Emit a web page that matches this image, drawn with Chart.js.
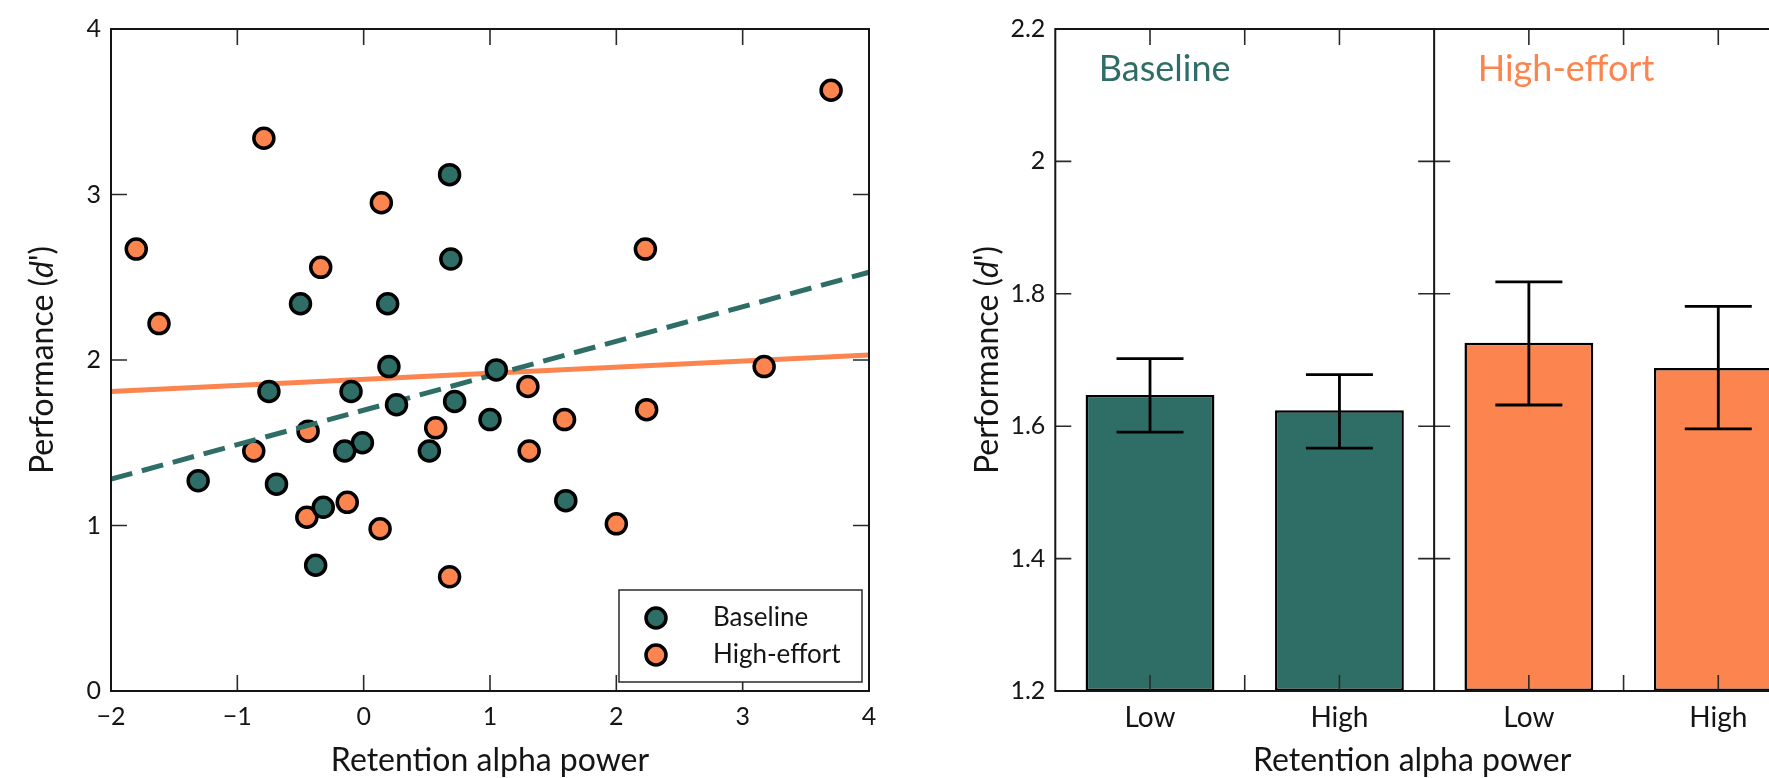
<!DOCTYPE html>
<html>
<head>
<meta charset="utf-8">
<script src="https://cdn.jsdelivr.net/npm/chart.js@4.4.1/dist/chart.umd.min.js"></script>
<style>
  html, body { margin: 0; padding: 0; background: #fff; overflow: hidden; }
  #scatterChart { position: absolute; left: 0; top: 0; }
  #barChart { position: absolute; left: 900px; top: 0; }
</style>
</head>
<body>
<canvas id="scatterChart" width="900" height="778"></canvas>
<canvas id="barChart" width="930" height="778"></canvas>
<script>
// left panel: per-subject retention alpha power vs d'
const baselineX = [0.68, 0.69, -0.50, 0.19, 0.20, 1.05, -0.75, -0.10, 0.26, 0.72, 1.00, -0.01, -0.15, 0.52, -1.31, -0.69, -0.32, 1.60, -0.38];
const baselineY = [3.12, 2.61, 2.34, 2.34, 1.96, 1.94, 1.81, 1.81, 1.73, 1.75, 1.64, 1.50, 1.45, 1.45, 1.27, 1.25, 1.11, 1.15, 0.76];
const effortX = [-1.80, -1.62, -0.79, 0.14, -0.34, 3.70, 2.23, 1.30, 3.17, -0.44, 0.57, -0.87, -0.45, -0.13, 0.13, 0.68, 2.24, 1.59, 1.31, 2.00];
const effortY = [2.67, 2.22, 3.34, 2.95, 2.56, 3.63, 2.67, 1.84, 1.96, 1.57, 1.59, 1.45, 1.05, 1.14, 0.98, 0.69, 1.70, 1.64, 1.45, 1.01];
const fitX = [-2, 4];
const baselineFit = [1.28, 2.53];
const effortFit = [1.81, 2.03];
const scatterXTicks = [-2, -1, 0, 1, 2, 3, 4];
const scatterYTicks = [0, 1, 2, 3, 4];

// right panel: median split on alpha power
const barLabels = ['Low', 'High', 'Low', 'High'];
const barConditions = ['Baseline', 'Baseline', 'High-effort', 'High-effort'];
const barMeans = [1.647, 1.624, 1.726, 1.688];
const barErrLow = [1.591, 1.567, 1.632, 1.596];
const barErrHigh = [1.702, 1.678, 1.818, 1.781];
const panelNames = ['Baseline', 'High-effort'];
const barYTicks = [1.2, 1.4, 1.6, 1.8, 2, 2.2];

const TEAL = '#2e6e67';
const ORANGE = '#fc854f';
const INK = '#151515';

Chart.defaults.font.family = 'Lato, sans-serif';
Chart.defaults.font.size = 25;
Chart.defaults.color = INK;

const pts = (xs, ys) => xs.map((x, i) => ({ x: x, y: ys[i] }));

// box, inward ticks, dividers
const framePlugin = {
    id: 'frame',
    afterDatasetsDraw(chart, args, opts) {
        const { ctx, chartArea: a, scales: { x, y } } = chart;
        const tl = 16;
        ctx.save();
        ctx.strokeStyle = '#2a2a2a';
        ctx.lineWidth = 1.6;
        ctx.beginPath();
        opts.xTicks.forEach(v => {
            const px = x.getPixelForValue(v);
            ctx.moveTo(px, a.bottom); ctx.lineTo(px, a.bottom - tl);
            ctx.moveTo(px, a.top); ctx.lineTo(px, a.top + tl);
        });
        opts.yTicks.forEach(v => {
            const py = y.getPixelForValue(v);
            ctx.moveTo(a.left, py); ctx.lineTo(a.left + tl, py);
            ctx.moveTo(a.right, py); ctx.lineTo(a.right - tl, py);
            (opts.dividers || []).forEach(d => {
                const px = x.getPixelForValue(d);
                ctx.moveTo(px - tl, py); ctx.lineTo(px + tl, py);
            });
        });
        ctx.stroke();
        ctx.strokeStyle = INK;
        ctx.lineWidth = 2;
        ctx.strokeRect(a.left, a.top, a.right - a.left, a.bottom - a.top);
        ctx.beginPath();
        (opts.dividers || []).forEach(d => {
            const px = x.getPixelForValue(d);
            ctx.moveTo(px, a.top); ctx.lineTo(px, a.bottom);
        });
        ctx.stroke();
        ctx.restore();
    }
};

// axis titles, y title has italic d
const titlesPlugin = {
    id: 'titles',
    afterDraw(chart, args, opts) {
        const { ctx, chartArea: a } = chart;
        ctx.save();
        ctx.fillStyle = INK;
        ctx.textBaseline = 'middle';
        // x title
        ctx.font = '32px Lato';
        ctx.textAlign = 'center';
        let cx = (a.left + a.right) / 2;
        if (opts.visibleCenter) {
            const visRight = Math.min(a.right, window.innerWidth - chart.canvas.offsetLeft);
            cx = (a.left + visRight) / 2;
        }
        ctx.fillText('Retention alpha power', cx, a.bottom + 70);
        // y title
        ctx.translate(a.left - 68, (a.top + a.bottom) / 2);
        ctx.rotate(-Math.PI / 2);
        ctx.textAlign = 'left';
        const parts = [['Performance (', '32px Lato'], ['d', 'italic 32px Lato'], ["')", '32px Lato']];
        let total = 0;
        parts.forEach(p => { ctx.font = p[1]; total += ctx.measureText(p[0]).width; });
        let xx = -total / 2;
        parts.forEach(p => {
            ctx.font = p[1];
            ctx.fillText(p[0], xx, 0);
            xx += ctx.measureText(p[0]).width;
        });
        ctx.restore();
    }
};

// boxed legend in lower right of scatter
const scatterLegend = {
    id: 'scatterLegend',
    afterDraw(chart) {
        const { ctx, chartArea: a } = chart;
        const w = 243, h = 92;
        const left = a.right - 7 - w, top = a.bottom - 9 - h;
        ctx.save();
        ctx.fillStyle = '#fff';
        ctx.fillRect(left, top, w, h);
        ctx.strokeStyle = '#2a2a2a';
        ctx.lineWidth = 1.5;
        ctx.strokeRect(left, top, w, h);
        const items = chart.data.datasets.filter(d => d.type !== 'line');
        items.forEach((d, i) => {
            const cy = top + 28 + i * 37;
            ctx.beginPath();
            ctx.arc(left + 37, cy, d.pointRadius, 0, Math.PI * 2);
            ctx.fillStyle = d.backgroundColor;
            ctx.fill();
            ctx.lineWidth = d.borderWidth;
            ctx.strokeStyle = '#000';
            ctx.stroke();
            ctx.fillStyle = INK;
            ctx.font = '26px Lato';
            ctx.textAlign = 'left';
            ctx.textBaseline = 'middle';
            ctx.fillText(d.label, left + 94, cy);
        });
        ctx.restore();
    }
};

// error bars + panel names on bar chart
const barExtras = {
    id: 'barExtras',
    afterDatasetsDraw(chart) {
        const { ctx, chartArea: a, scales: { x, y } } = chart;
        const bars = chart.getDatasetMeta(0).data;
        ctx.save();
        ctx.strokeStyle = '#000';
        ctx.lineWidth = 2.8;
        ctx.beginPath();
        bars.forEach((bar, i) => {
            const half = bar.width * 0.26;
            const yl = y.getPixelForValue(barErrLow[i]);
            const yh = y.getPixelForValue(barErrHigh[i]);
            ctx.moveTo(bar.x, yl); ctx.lineTo(bar.x, yh);
            ctx.moveTo(bar.x - half, yl); ctx.lineTo(bar.x + half, yl);
            ctx.moveTo(bar.x - half, yh); ctx.lineTo(bar.x + half, yh);
        });
        ctx.stroke();
        ctx.font = '36px Lato';
        ctx.textAlign = 'left';
        ctx.textBaseline = 'middle';
        panelNames.forEach((name, i) => {
            ctx.fillStyle = i === 0 ? TEAL : ORANGE;
            ctx.fillText(name, x.getPixelForValue(0.5 + i * 2 + 0.23), a.top + 40);
        });
        ctx.restore();
    }
};

new Chart(document.getElementById('scatterChart'), {
    type: 'scatter',
    data: {
        datasets: [
            { label: 'Baseline', data: pts(baselineX, baselineY), backgroundColor: TEAL, borderColor: '#000', borderWidth: 3.5, pointRadius: 10, order: 0 },
            { type: 'line', label: 'Baseline fit', data: pts(fitX, baselineFit), borderColor: TEAL, borderWidth: 5, borderDash: [22, 10], pointRadius: 0, fill: false, order: 1 },
            { label: 'High-effort', data: pts(effortX, effortY), backgroundColor: ORANGE, borderColor: '#000', borderWidth: 3.5, pointRadius: 10, order: 2 },
            { type: 'line', label: 'High-effort fit', data: pts(fitX, effortFit), borderColor: ORANGE, borderWidth: 5, pointRadius: 0, fill: false, order: 3 }
        ]
    },
    options: {
        responsive: false,
        animation: false,
        events: [],
        layout: { padding: { top: 29, right: 31, left: 0, bottom: 0 } },
        plugins: {
            legend: { display: false },
            tooltip: { enabled: false },
            frame: { xTicks: scatterXTicks, yTicks: scatterYTicks }
        },
        scales: {
            x: {
                type: 'linear', min: -2, max: 4,
                grid: { display: false, drawTicks: false },
                border: { display: false },
                afterBuildTicks: s => { s.ticks = scatterXTicks.map(v => ({ value: v })); },
                afterFit: s => { s.height = 87; },
                ticks: { padding: 11, maxRotation: 0, autoSkip: false, callback: v => String(v).replace('-', '\u2212') }
            },
            y: {
                min: 0, max: 4,
                grid: { display: false, drawTicks: false },
                border: { display: false },
                afterBuildTicks: s => { s.ticks = scatterYTicks.map(v => ({ value: v })); },
                afterFit: s => { s.width = 111; },
                ticks: { padding: 10, callback: v => String(v) }
            }
        }
    },
    plugins: [framePlugin, titlesPlugin, scatterLegend]
});

new Chart(document.getElementById('barChart'), {
    type: 'bar',
    data: {
        datasets: [{
            label: 'Performance',
            data: barMeans.map((m, i) => ({ x: i + 1, y: m })),
            backgroundColor: barConditions.map(c => c === 'Baseline' ? TEAL : ORANGE),
            borderColor: '#000',
            borderWidth: 2.5,
            borderSkipped: false,
            base: barYTicks[0],
            categoryPercentage: 1,
            barPercentage: 0.68
        }]
    },
    options: {
        responsive: false,
        animation: false,
        events: [],
        layout: { padding: { top: 29, right: 17, left: 0, bottom: 0 } },
        plugins: {
            legend: { display: false },
            tooltip: { enabled: false },
            frame: { xTicks: [1, 1.5, 2, 3, 3.5, 4], yTicks: barYTicks, dividers: [2.5] },
            titles: { visibleCenter: true }
        },
        scales: {
            x: {
                type: 'linear', min: 0.5, max: 4.5, offset: false,
                grid: { display: false, drawTicks: false },
                border: { display: false },
                afterBuildTicks: s => { s.ticks = barLabels.map((l, i) => ({ value: i + 1 })); },
                afterFit: s => { s.height = 87; },
                ticks: { padding: 10, maxRotation: 0, autoSkip: false, font: { size: 28 }, callback: v => barLabels[Math.round(v) - 1] }
            },
            y: {
                min: 1.2, max: 2.2,
                grid: { display: false, drawTicks: false },
                border: { display: false },
                afterBuildTicks: s => { s.ticks = barYTicks.map(v => ({ value: v })); },
                afterFit: s => { s.width = 155.3; },
                ticks: { padding: 10, callback: v => String(v) }
            }
        }
    },
    plugins: [framePlugin, titlesPlugin, barExtras]
});
</script>
</body>
</html>
